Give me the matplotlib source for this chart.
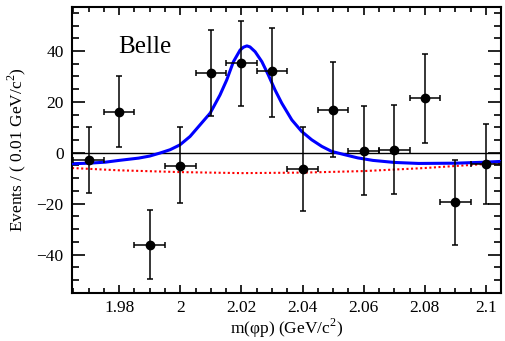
import numpy as np
import matplotlib
matplotlib.use('Agg')
import matplotlib.pyplot as plt
from matplotlib.ticker import MultipleLocator, FuncFormatter

plt.rcParams['font.family'] = ['Liberation Serif', 'DejaVu Serif']
plt.rcParams['mathtext.fontset'] = 'custom'
plt.rcParams['mathtext.rm'] = 'Liberation Serif'

# data points (bin centres, counts, asymmetric errors)
mass = [1.97, 1.98, 1.99, 2.00, 2.01, 2.02, 2.03, 2.04, 2.05, 2.06, 2.07, 2.08, 2.09, 2.10]
events = [-2.7, 16.2, -36.1, -5.1, 31.5, 35.2, 32.2, -6.4, 16.9, 0.5, 1.2, 21.4, -19.3, -4.3]
err_hi = [12.8, 14.1, 13.7, 15.2, 16.7, 16.7, 16.8, 16.7, 18.7, 17.7, 17.6, 17.4, 16.6, 15.7]
err_lo = [13.1, 14.1, 13.7, 14.6, 16.9, 16.8, 18.1, 16.6, 18.6, 17.0, 17.4, 17.6, 16.8, 15.7]
bin_half = 0.005

# total fit curve
fit_x = [1.9646, 1.9700, 1.9755, 1.9800, 1.9864, 1.9900, 1.9934, 1.9967, 1.9999,
         2.0032, 2.0065, 2.0098, 2.0130, 2.0152, 2.0174, 2.0196, 2.0207, 2.0218,
         2.0228, 2.0245, 2.0267, 2.0288, 2.0310, 2.0332, 2.0365, 2.0397, 2.0430,
         2.0463, 2.0496, 2.0539, 2.0580, 2.0630, 2.0700, 2.0780, 2.0900, 2.1000,
         2.1049]
fit_y = [-4.3, -4.1, -3.7, -3.0, -2.1, -1.3, -0.1, 1.2, 3.1,
         6.4, 11.0, 15.6, 22.7, 28.6, 35.8, 40.4, 41.5, 42.0,
         41.6, 39.7, 35.8, 30.6, 24.7, 19.5, 12.9, 8.4, 5.1,
         2.5, 0.5, -0.8, -2.0, -3.0, -3.8, -4.2, -4.1, -3.7,
         -3.4]

# background curve
bkg_x = [1.9646, 1.98, 2.00, 2.02, 2.04, 2.06, 2.08, 2.09, 2.1049]
bkg_y = [-6.0, -6.9, -7.6, -8.0, -7.8, -7.2, -6.0, -5.2, -4.0]

fig = plt.figure(figsize=(5.05, 3.41), dpi=100)
ax = fig.add_axes([0.1426, 0.1416, 0.8494, 0.838])

ax.axhline(0, color='black', lw=1.0, zorder=1)
ax.plot(bkg_x, bkg_y, color='red', lw=1.5, ls=(0, (1, 1.2)), zorder=2)
ax.plot(fit_x, fit_y, color='blue', lw=2.2, zorder=3, solid_joinstyle='round')
ax.errorbar(mass, events, xerr=bin_half, yerr=[err_lo, err_hi], fmt='o',
            color='black', ms=6, elinewidth=1.1, capsize=2, capthick=1.1, zorder=4)

ax.set_xlim(1.9646, 2.1049)
ax.set_ylim(-55, 57.3)

ax.xaxis.set_major_locator(MultipleLocator(0.02))
ax.xaxis.set_minor_locator(MultipleLocator(0.005))
ax.yaxis.set_major_locator(MultipleLocator(20))
ax.yaxis.set_minor_locator(MultipleLocator(5))
ax.xaxis.set_major_formatter(FuncFormatter(lambda v, p: '{:g}'.format(round(v, 3))))

ax.tick_params(which='both', direction='in', top=True, right=True, labelsize=12.5,
               width=1.2)
ax.tick_params(axis='x', which='major', length=6, pad=5)
ax.tick_params(axis='x', which='minor', length=3.3)
ax.tick_params(axis='y', which='major', length=9.5, pad=6)
ax.tick_params(axis='y', which='minor', length=5)
for s in ax.spines.values():
    s.set_linewidth(1.5)

ax.set_xlabel('m(\u03c6p) (GeV/c$^2$)', fontsize=12.5, labelpad=1)
ax.set_ylabel('Events / ( 0.01 GeV/c$^2$)', fontsize=12.5, labelpad=6)
ax.text(0.107, 0.86, 'Belle', transform=ax.transAxes, fontsize=18, va='center')

fig.savefig('out.png', dpi=100)
